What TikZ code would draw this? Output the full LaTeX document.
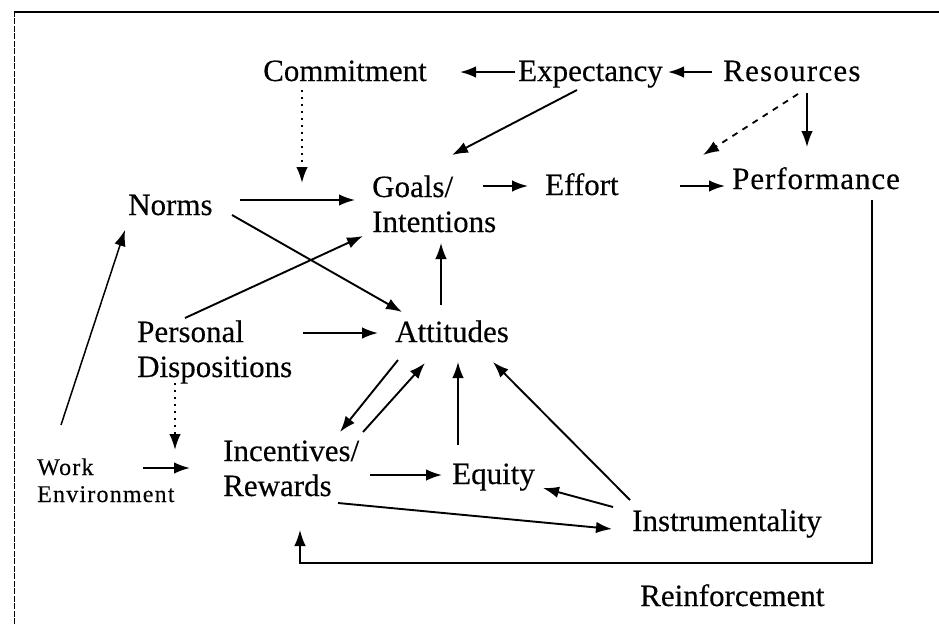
\documentclass[tikz,border=0pt]{standalone}
\usepackage{fontspec}
\setmainfont[FakeBold=0.3]{Liberation Serif}
\newfontfamily\wefont[LetterSpace=5,FakeBold=0.2]{Liberation Serif}
\newfontfamily\widefont[LetterSpace=4,FakeBold=0.3]{Liberation Serif}
\newfontfamily\midfont[LetterSpace=3,FakeBold=0.3]{Liberation Serif}
\usetikzlibrary{arrows.meta,calc}
\begin{document}
\begin{tikzpicture}[x=1pt,y=-1pt,
  lbl/.style={anchor=base west,inner sep=0pt,font=\fontsize{31}{35}\selectfont},
  arr/.style={line width=1.9pt,-{Latex[length=16pt,width=11.5pt]}},
  tarr/.style={line width=1.5pt,-{Latex[length=16pt,width=11.5pt]}},
  dotarr/.style={line width=2pt,dash pattern=on 2pt off 5pt,-{Latex[length=16pt,width=11.5pt]}},
  dasharr/.style={line width=1.8pt,dash pattern=on 6pt off 6pt,-{Latex[length=16pt,width=11.5pt]}}]
\useasboundingbox (0,0) rectangle (939,624);
% frame
\draw[line width=0.8pt,dash pattern=on 6pt off 1.5pt] (14,624) -- (14,12);
\draw[line width=1.8pt] (14,12) -- (939,12);
% nodes
\node[lbl] (commit) at (263,81) {Commitment};
\node[lbl] (expect) at (518,81) {Expectancy};
\node[lbl,font=\widefont\fontsize{31}{35}\selectfont] (res) at (723,81) {Resources};
\node[lbl] (norms) at (128,215) {Norms};
\node[lbl] (goals) at (372,197) {\begin{tabular}[t]{@{}l@{}}Goals/\\Intentions\end{tabular}};
\node[lbl] (effort) at (545,195) {Effort};
\node[lbl,font=\midfont\fontsize{31}{35}\selectfont] (perf) at (732,189) {Performance};
\node[lbl] (personal) at (137,342) {\begin{tabular}[t]{@{}l@{}}Personal\\Dispositions\end{tabular}};
\node[lbl] (att) at (395,342) {Attitudes};
\node[lbl,font=\wefont\fontsize{24}{27}\selectfont] (work) at (37,475) {\begin{tabular}[t]{@{}l@{}}Work\\Environment\end{tabular}};
\node[lbl] (incent) at (223,461) {\begin{tabular}[t]{@{}l@{}}Incentives/\\Rewards\end{tabular}};
\node[lbl] (equity) at (452,484) {Equity};
\node[lbl] (instr) at (632,531) {Instrumentality};
\node[lbl] (reinf) at (640,606) {Reinforcement};
% connectors
\draw[arr] ($(expect.base west)+(-3,-9)$) -- ($(commit.base west)+(197,-9)$);
\draw[arr] ($(res.base west)+(-11,-9)$) -- ($(expect.base west)+(150,-9)$);
\draw[dotarr] ($(commit.base west)+(39,9)$) -- ($(goals.base west)+(-70,-14)$);
\draw[arr] ($(expect.base west)+(59,9)$) -- ($(goals.base west)+(80,-42)$);
\draw[dasharr] ($(res.base west)+(75,13)$) -- ($(perf.base west)+(-29,-34)$);
\draw[tarr] ($(res.base west)+(84,12)$) -- ($(perf.base west)+(75,-42)$);
\draw[arr] ($(norms.base west)+(112,-15)$) -- ($(goals.base west)+(-17,3)$);
\draw[arr] ($(norms.base west)+(104,0)$) -- ($(att.base west)+(7,-30)$);
\draw[arr] ($(personal.base west)+(48,-24)$) -- ($(goals.base west)+(-9,39)$);
\draw[arr] ($(goals.base west)+(111,-11)$) -- ($(effort.base west)+(-17,-9)$);
\draw[arr] ($(effort.base west)+(135,-9)$) -- ($(perf.base west)+(-7,-3)$);
\draw[tarr] ($(att.base west)+(46,-37)$) -- ($(goals.base west)+(69,46)$);
\draw[arr] ($(personal.base west)+(166,-9)$) -- ($(att.base west)+(-17,-9)$);
\draw[dotarr] ($(personal.base west)+(38,41)$) -- ($(incent.base west)+(-48,-11)$);
\draw[arr] ($(work.base west)+(106,-7)$) -- ($(incent.base west)+(-33,7)$);
\draw[tarr] ($(work.base west)+(24,-50)$) -- ($(norms.base west)+(-3,15)$);
\draw[arr] ($(att.base west)+(3,18)$) -- ($(incent.base west)+(117,-29)$);
\draw[arr] ($(incent.base west)+(140,-29)$) -- ($(att.base west)+(30,21)$);
\draw[tarr] ($(equity.base west)+(6,-39)$) -- ($(att.base west)+(63,20)$);
\draw[arr] ($(instr.base west)+(-2,-31)$) -- ($(att.base west)+(98,20)$);
\draw[arr] ($(instr.base west)+(-19,-24)$) -- ($(equity.base west)+(91,4)$);
\draw[arr] ($(incent.base west)+(147,14)$) -- ($(equity.base west)+(-10,-9)$);
\draw[arr] ($(incent.base west)+(115,42)$) -- ($(instr.base west)+(-20,-2)$);
\draw[tarr] ($(perf.base west)+(140,11)$) |- ($(incent.base west)+(77,102)$) -- ($(incent.base west)+(77,69)$);
\end{tikzpicture}
\end{document}
